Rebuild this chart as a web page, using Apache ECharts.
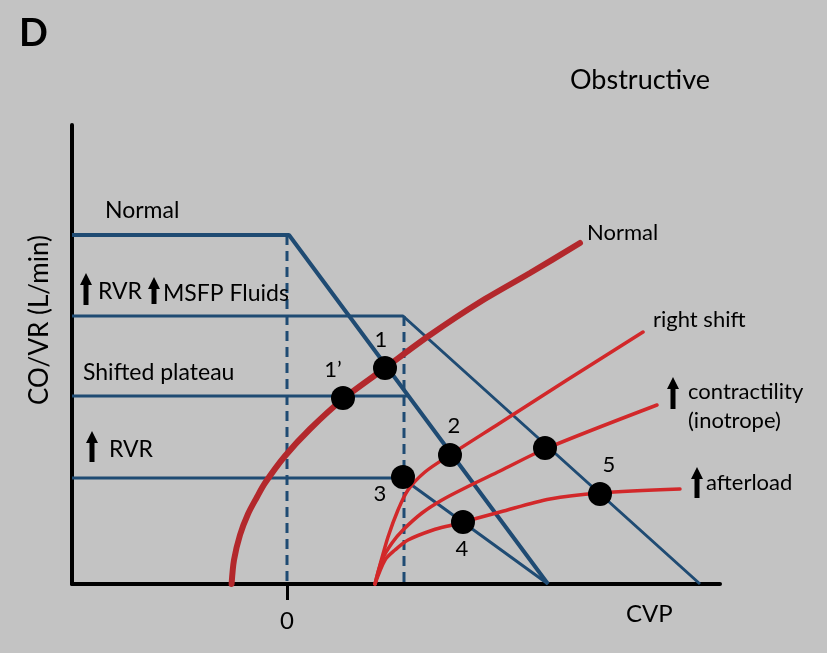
<!DOCTYPE html>
<html>
<head>
<meta charset="utf-8">
<script src="https://cdn.jsdelivr.net/npm/echarts@6/dist/echarts.min.js"></script>
<style>
  html, body { margin: 0; padding: 0; background: #c3c3c3; }
  #chart { width: 827px; height: 653px; }
</style>
</head>
<body>
<div id="chart"></div>
<script>
// axis ranges (CVP on x, CO/VR on y, arbitrary units)
const cvpMin = -10.75, cvpMax = 21.65;
const coMin = 0, coMax = 22.95;
const cvpTicks = [0];

// venous return curves (blue)
const vrNormal = [[-10.75, 17.45], [0.1, 17.45], [13.05, 0]];
const vrFluids = [[-10.75, 13.4], [5.8, 13.4], [20.65, 0]];
const vrShifted = [[-10.75, 9.4], [6.0, 9.4]];
const vrRvr = [[-10.75, 5.3], [5.75, 5.3], [13.05, 0]];
const dashNormal = [[0, 17.45], [0, 0]];
const dashFluids = [[5.85, 13.4], [5.85, 0]];

// cardiac function curves (red)
const coNormal = [[-2.77, 0], [-2.65, 1.2], [-2.35, 2.45], [-1.95, 3.5], [-1.5, 4.35], [-1.1, 5.05],
  [-0.1, 6.4], [1.15, 7.75], [2.8, 9.25], [4.9, 10.8], [7.15, 12.45], [9.65, 14.1],
  [12.15, 15.55], [14.65, 17.05]];
const coRightShift = [[4.4, 0], [4.65, 0.95], [5.05, 2.35], [5.55, 3.7], [6.05, 4.7], [6.9, 5.6],
  [8.15, 6.45], [10.65, 8.05], [14.0, 10.2], [17.8, 12.6]];
const coContract = [[4.4, 0], [4.75, 1.2], [5.25, 2.05], [5.8, 2.7], [6.75, 3.55], [7.75, 4.2],
  [8.9, 4.8], [10.65, 5.65], [12.9, 6.75], [18.5, 8.95]];
const coAfterload = [[4.4, 0], [4.9, 1.2], [5.4, 1.7], [6.05, 2.2], [7.3, 2.7], [8.25, 2.95],
  [8.8, 3.1], [10.65, 3.6], [13.15, 4.25], [15.65, 4.55], [19.65, 4.75]];

// operating points
const pointNames = ['1', '1’', '2', '3', '4', '5', ''];
const pointCvp = [4.9, 2.8, 8.15, 5.8, 8.8, 15.65, 12.9];
const pointCo = [10.8, 9.3, 6.45, 5.35, 3.1, 4.5, 6.8];

const blue = '#1f4b73';
const darkRed = '#b3282c';
const red = '#d2282a';
const font = 'Lato';

// where each point number sits relative to its dot
const labelOffsets = {'1': [-4, -28], '1’': [-10, -28], '2': [4, -29], '3': [-23, 17], '4': [-1, 27], '5': [9, -29], '': [0, 0]};

const chart = echarts.init(document.getElementById('chart'));

function vrLine(data, width, dashed) {
  return {
    type: 'line', data: data, showSymbol: false, silent: true, z: 2,
    lineStyle: {color: blue, width: width, type: dashed ? [10, 6] : 'solid'}
  };
}
function coLine(data, color, width) {
  return {
    type: 'line', data: data, showSymbol: false, silent: true, smooth: 0.3, z: 3,
    lineStyle: {color: color, width: width, cap: 'round'}
  };
}
function txt(text, x, y, size, extra) {
  return Object.assign({
    type: 'text', x: x, y: y, z: 10,
    style: {text: text, fill: '#000', fontFamily: font, fontSize: size, verticalAlign: 'middle', align: 'left'}
  }, extra || {});
}
function arrow(cx, top, bottom) {
  return {
    type: 'polygon', z: 10,
    shape: {points: [[cx, top], [cx + 6, top + 12], [cx + 2.5, top + 12], [cx + 2.5, bottom],
      [cx - 2.5, bottom], [cx - 2.5, top + 12], [cx - 6, top + 12]]},
    style: {fill: '#000'}
  };
}

const option = {
  backgroundColor: '#c3c3c3',
  animation: false,
  grid: {left: 72, right: 107, top: 125, bottom: 69},
  xAxis: {
    type: 'value', min: cvpMin, max: cvpMax,
    splitLine: {show: false},
    axisLine: {onZero: false, lineStyle: {color: '#000', width: 4}},
    axisTick: {show: true, customValues: cvpTicks, length: 16, lineStyle: {color: '#000', width: 3}},
    axisLabel: {customValues: cvpTicks, color: '#000', fontFamily: font, fontSize: 24, margin: 25}
  },
  yAxis: {
    type: 'value', min: coMin, max: coMax,
    splitLine: {show: false},
    axisLine: {show: true, onZero: false, lineStyle: {color: '#000', width: 4}},
    axisTick: {show: false},
    axisLabel: {show: false}
  },
  series: [
    vrLine(vrNormal, 4),
    vrLine(vrFluids, 3),
    vrLine(vrShifted, 3),
    vrLine(vrRvr, 3),
    vrLine(dashNormal, 3, true),
    vrLine(dashFluids, 3, true),
    coLine(coNormal, darkRed, 6),
    coLine(coRightShift, red, 3.5),
    coLine(coContract, red, 3.5),
    coLine(coAfterload, red, 3.5),
    {
      type: 'scatter', symbolSize: 24, z: 5, silent: true,
      itemStyle: {color: '#000', opacity: 1},
      data: pointNames.map((n, i) => ({
        name: n, value: [pointCvp[i], pointCo[i]],
        label: {show: n !== '', position: 'inside', offset: labelOffsets[n], formatter: '{b}',
          color: '#000', fontFamily: font, fontSize: 22}
      }))
    }
  ],
  graphic: [
    txt('D', 19, 34, 38, {style: {text: 'D', fill: '#000', fontFamily: font, fontSize: 38, fontWeight: 'bold', verticalAlign: 'middle', align: 'left'}}),
    txt('Obstructive', 570, 80, 27),
    txt('CVP', 626, 614, 24),
    {type: 'text', x: 40, y: 320, rotation: Math.PI / 2, z: 10,
      style: {text: 'CO/VR (L/min)', fill: '#000', fontFamily: font, fontSize: 26, align: 'center', verticalAlign: 'middle'}},
    txt('Normal', 105, 211, 23),
    txt('RVR', 98, 292, 23),
    txt('MSFP Fluids', 163, 294, 23),
    txt('Shifted plateau', 83, 373, 23),
    txt('RVR', 109, 450, 23),
    txt('Normal', 587, 233, 22),
    txt('right shift', 653, 320, 22),
    txt('contractility', 688, 392, 22),
    txt('(inotrope)', 688, 421, 22),
    txt('afterload', 706, 483, 22),
    arrow(86, 273, 305),
    arrow(154, 277, 304),
    arrow(92, 431, 462),
    arrow(673, 377, 409),
    arrow(697, 467, 498)
  ]
};

chart.setOption(option);
</script>
</body>
</html>
